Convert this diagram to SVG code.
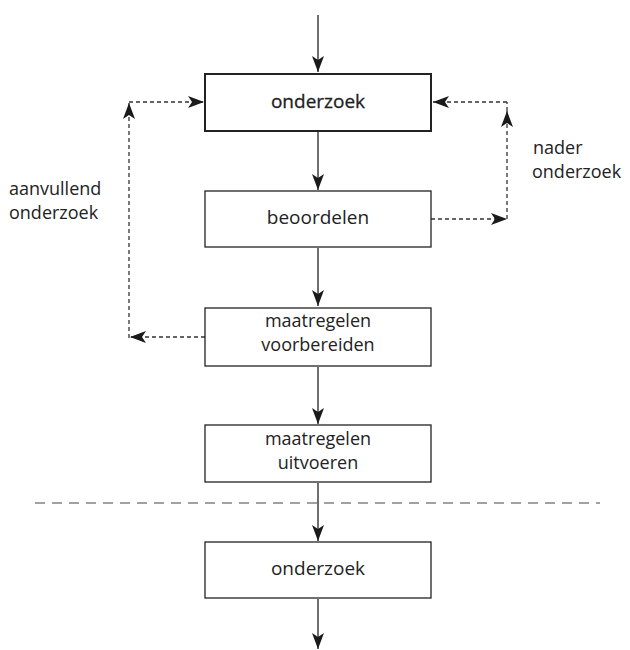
<svg xmlns="http://www.w3.org/2000/svg" width="630" height="650" viewBox="0 0 630 650">
  <style>
    .box { fill: #fff; stroke: #222; stroke-width: 1.3; }
    .box.main { stroke-width: 2; }
    .lbl { font-family: "Open Sans", "Liberation Sans", sans-serif; font-size: 19px; fill: #222; text-anchor: middle; }
    .lbl.two { font-size: 18px; }
    .lbl.main { stroke: #222; stroke-width: 0.3; }
    .side { font-family: "Open Sans", "Liberation Sans", sans-serif; font-size: 18px; fill: #222; }
    .flow { stroke: #333; stroke-width: 1.4; fill: none; marker-end: url(#head); }
    .loop { stroke: #333; stroke-width: 1.3; fill: none; stroke-dasharray: 4 3; marker-end: url(#head); }
    .sep { stroke: #444; stroke-width: 1.2; stroke-dasharray: 10 7; fill: none; }
  </style>
  <defs>
    <!-- barbed arrowhead, tip at the line end -->
    <marker id="head" viewBox="0 0 16 12" refX="16" refY="6" markerWidth="16" markerHeight="12" markerUnits="userSpaceOnUse" orient="auto">
      <path d="M0,0 L16,6 L0,12 L4,6 Z" fill="#1a1a1a"/>
    </marker>
  </defs>

  <g id="connectors">
    <line class="flow" x1="318" y1="15" x2="318" y2="72"/>
    <line class="flow" x1="318" y1="132" x2="318" y2="190"/>
    <line class="flow" x1="318" y1="248" x2="318" y2="306"/>
    <line class="flow" x1="318" y1="367" x2="318" y2="424"/>
    <line class="flow" x1="318" y1="483" x2="318" y2="541"/>
    <line class="flow" x1="318" y1="599" x2="318" y2="649"/>

    <!-- aanvullend onderzoek loop -->
    <line class="loop" x1="205" y1="337" x2="130" y2="337"/>
    <line class="loop" x1="129" y1="338" x2="129" y2="103"/>
    <line class="loop" x1="129" y1="102" x2="204" y2="102"/>

    <!-- nader onderzoek loop -->
    <line class="loop" x1="431" y1="219" x2="507" y2="219"/>
    <line class="loop" x1="507" y1="219" x2="507" y2="111"/>
    <line class="loop" x1="507" y1="102" x2="433" y2="102"/>
    <line x1="507" y1="111" x2="507" y2="102" stroke="#333" stroke-width="1.3" stroke-dasharray="4 3"/>
  </g>

  <line id="separator" class="sep" x1="35" y1="503" x2="600" y2="503"/>

  <g id="onderzoek-1">
    <rect class="box main" x="205" y="74" width="226" height="57"/>
    <text class="lbl main" x="318" y="108">onderzoek</text>
  </g>
  <g id="beoordelen">
    <rect class="box" x="205" y="191" width="226" height="56"/>
    <text class="lbl" x="318" y="224">beoordelen</text>
  </g>
  <g id="maatregelen-voorbereiden">
    <rect class="box" x="205" y="308" width="226" height="58"/>
    <text class="lbl two" x="318" y="327">maatregelen</text>
    <text class="lbl two" x="318" y="351">voorbereiden</text>
  </g>
  <g id="maatregelen-uitvoeren">
    <rect class="box" x="205" y="425" width="226" height="57"/>
    <text class="lbl two" x="318" y="445">maatregelen</text>
    <text class="lbl two" x="318" y="469">uitvoeren</text>
  </g>
  <g id="onderzoek-2">
    <rect class="box" x="205" y="542" width="226" height="56"/>
    <text class="lbl" x="318" y="575">onderzoek</text>
  </g>

  <g id="label-aanvullend">
    <text class="side" x="9" y="195">aanvullend</text>
    <text class="side" x="9" y="219">onderzoek</text>
  </g>
  <g id="label-nader">
    <text class="side" x="533" y="154">nader</text>
    <text class="side" x="532" y="178">onderzoek</text>
  </g>
</svg>
